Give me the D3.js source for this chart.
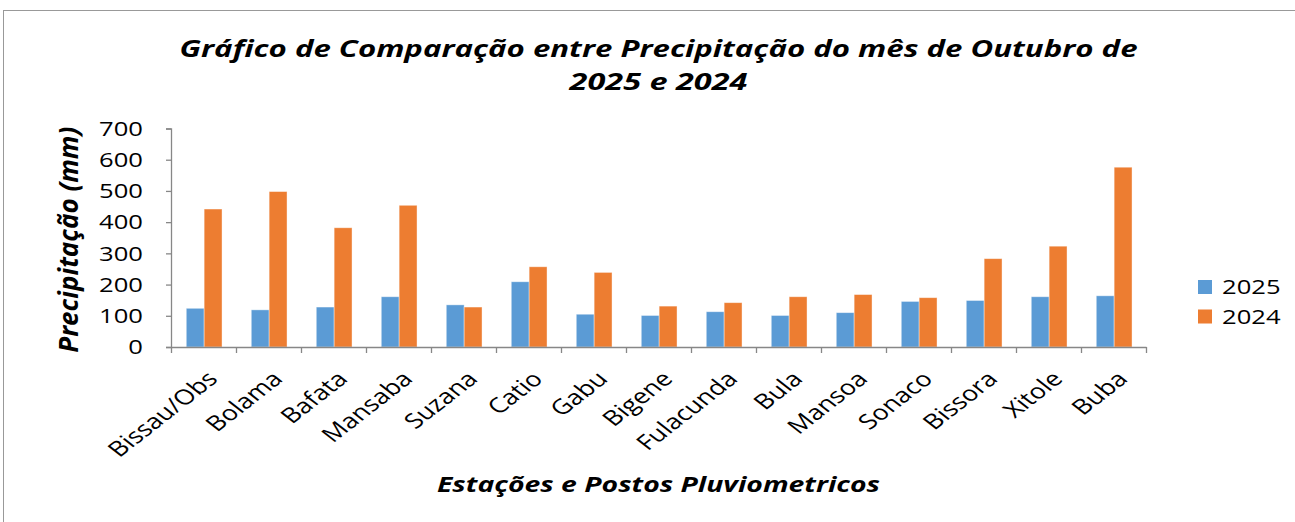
<!DOCTYPE html>
<html>
<head>
  <meta charset="utf-8" />
  <style>
    body { margin: 0; background: #fff; }
    text { font-family: "Open Sans", sans-serif; fill: #000; }
  </style>
</head>
<body>
<svg id="chart" width="1295" height="522"></svg>
<script src="https://cdn.jsdelivr.net/npm/d3@7"></script>
<script>
// data
const stations = ['Bissau/Obs', 'Bolama', 'Bafata', 'Mansaba', 'Suzana', 'Catio', 'Gabu', 'Bigene',
  'Fulacunda', 'Bula', 'Mansoa', 'Sonaco', 'Bissora', 'Xitole', 'Buba']
const series = ['2025', '2024']
const rain2025 = [124, 119, 128, 161, 135, 209, 105, 101, 113, 101, 110, 146, 149, 161, 164]
const rain2024 = [442, 498, 382, 454, 128, 257, 239, 131, 142, 161, 168, 158, 283, 323, 576]
const yTicks = [0, 100, 200, 300, 400, 500, 600, 700]
const colors = ['#5B9BD5', '#ED7D31']

const SX = 1.28   // the original text is stretched sideways
const svg = d3.select('#chart')

// outer frame
svg.append('rect')
  .attr('x', 3.5).attr('y', 10.5).attr('width', 1400).attr('height', 700)
  .attr('fill', 'none').attr('stroke', '#999')

const pLeft = 171, pRight = 1146, pTop = 128.5, pBottom = 347

const x0 = d3.scaleBand().domain(stations).range([pLeft, pRight])
const x1 = d3.scaleBand().domain(series).range([x0.bandwidth() * 0.235, x0.bandwidth() * 0.785])
const y = d3.scaleLinear().domain([0, 700]).range([pBottom, pTop])
const xEdge = d3.scaleLinear().domain([0, stations.length]).range([pLeft, pRight])

const rows = stations.map((s, i) => ({ name: s, vals: [rain2025[i], rain2024[i]] }))

// bars
svg.append('g').selectAll('g')
  .data(rows)
  .join('g')
  .attr('transform', d => `translate(${x0(d.name)},0)`)
  .selectAll('rect')
  .data(d => d.vals.map((v, k) => ({ key: series[k], v: v, k: k })))
  .join('rect')
  .attr('x', d => x1(d.key))
  .attr('width', x1.bandwidth())
  .attr('y', d => y(d.v))
  .attr('height', d => y(0) - y(d.v))
  .attr('fill', d => colors[d.k])
  .attr('stroke', '#fff').attr('stroke-opacity', 0.5).attr('stroke-width', 0.8)

// y axis
const yAxis = svg.append('g')
  .attr('transform', `translate(${pLeft},0)`)
  .call(d3.axisLeft(y).tickValues(yTicks).tickSize(5).tickFormat(''))
yAxis.selectAll('line, path').attr('stroke', '#878787').attr('stroke-width', 1.3)

svg.append('g').selectAll('text')
  .data(yTicks)
  .join('text')
  .attr('transform', d => `translate(143,${y(d)}) scale(${SX},1)`)
  .attr('text-anchor', 'end')
  .attr('dy', '0.36em')
  .attr('font-size', 20)
  .text(d => d)

// x axis, ticks on the category edges
const xAxis = svg.append('g')
  .attr('transform', `translate(0,${pBottom})`)
  .call(d3.axisBottom(xEdge).tickValues(d3.range(stations.length + 1)).tickSize(6).tickFormat('').tickSizeOuter(0))
xAxis.selectAll('line, path').attr('stroke', '#878787').attr('stroke-width', 1.3)

svg.append('g').selectAll('text')
  .data(stations)
  .join('text')
  .attr('transform', d => `translate(${x0(d) + x0.bandwidth() / 2 + 9},${pBottom + 28}) scale(${SX},1) rotate(-45)`)
  .attr('text-anchor', 'end')
  .attr('dy', '0.35em')
  .attr('font-size', 21)
  .text(d => d)

// title
const cx = (pLeft + pRight) / 2
svg.append('text')
  .attr('x', cx).attr('y', 57)
  .attr('text-anchor', 'middle')
  .attr('font-size', 24).attr('font-weight', 'bold').attr('font-style', 'italic')
  .attr('textLength', 958).attr('lengthAdjust', 'spacingAndGlyphs')
  .text('Gráfico de Comparação entre Precipitação do mês de Outubro de')
svg.append('text')
  .attr('x', cx).attr('y', 90)
  .attr('text-anchor', 'middle')
  .attr('font-size', 24).attr('font-weight', 'bold').attr('font-style', 'italic')
  .attr('textLength', 178).attr('lengthAdjust', 'spacingAndGlyphs')
  .text('2025 e 2024')

// axis titles
svg.append('text')
  .attr('x', cx).attr('y', 492)
  .attr('text-anchor', 'middle')
  .attr('font-size', 21).attr('font-weight', 'bold').attr('font-style', 'italic')
  .attr('textLength', 443).attr('lengthAdjust', 'spacingAndGlyphs')
  .text('Estações e Postos Pluviometricos')

svg.append('text')
  .attr('transform', `translate(78,${(pTop + pBottom) / 2 + 2}) scale(1.25,1) rotate(-90)`)
  .attr('text-anchor', 'middle')
  .attr('font-size', 21).attr('font-weight', 'bold').attr('font-style', 'italic')
  .attr('textLength', 226).attr('lengthAdjust', 'spacingAndGlyphs')
  .text('Precipitação (mm)')

// legend
const legend = svg.append('g').selectAll('g')
  .data(series)
  .join('g')
  .attr('transform', (d, i) => `translate(1198,${280 + i * 29.5})`)
legend.append('rect')
  .attr('width', 14).attr('height', 14)
  .attr('fill', (d, i) => colors[i])
legend.append('text')
  .attr('transform', `translate(24,7) scale(${SX},1)`)
  .attr('dy', '0.36em')
  .attr('font-size', 20)
  .text(d => d)
</script>
</body>
</html>
